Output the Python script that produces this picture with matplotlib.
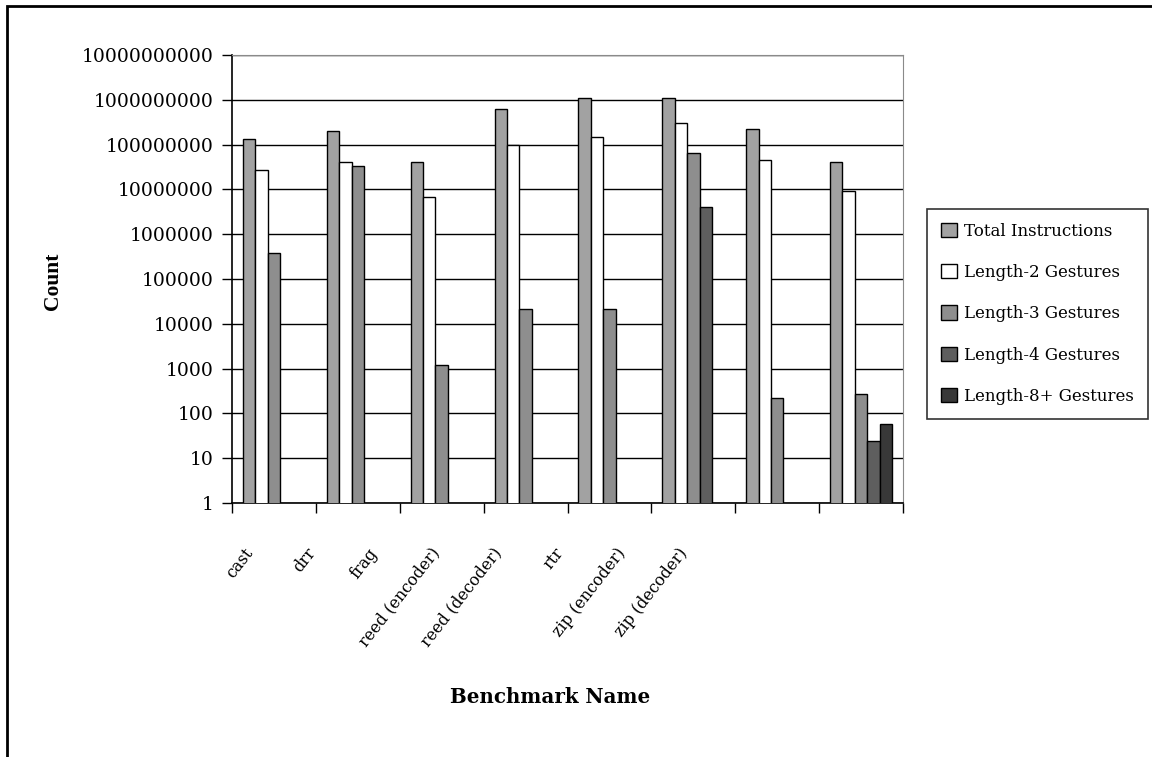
import matplotlib
matplotlib.use("Agg")
import matplotlib.pyplot as plt
import numpy as np
from matplotlib.patches import Rectangle

categories = ["cast", "drr", "frag", "reed (encoder)", "reed (decoder)",
              "rtr", "zip (encoder)", "zip (decoder)"]
series_names = ["Total Instructions", "Length-2 Gestures", "Length-3 Gestures",
                "Length-4 Gestures", "Length-8+ Gestures"]
total_instr = [1.35e8, 2.0e8, 4.0e7, 6.1e8, 1.1e9, 1.1e9, 2.2e8, 4.0e7]
len2 = [2.7e7, 4.0e7, 6.6e6, 1.0e8, 1.5e8, 3.1e8, 4.5e7, 9.2e6]
len3 = [3.9e5, 3.3e7, 1.2e3, 2.1e4, 2.1e4, 6.6e7, 2.2e2, 2.7e2]
len4 = [0, 0, 0, 0, 0, 4.0e6, 0, 24]
len8 = [0, 0, 0, 0, 0, 0, 0, 58]
ytick_vals = [10 ** k for k in range(11)]

colors = ["#a2a2a2", "#ffffff", "#8e8e8e", "#5e5e5e", "#383838"]

W, H = 1152, 757
fig = plt.figure(figsize=(W / 100, H / 100), dpi=100)
fig.patch.set_facecolor("white")

# plot area in pixels: x 232..903, y 55..503
ax = fig.add_axes([232 / W, 1 - 503 / H, 671 / W, 448 / H])

x = np.arange(len(categories))
bw = 0.148
all_series = [total_instr, len2, len3, len4, len8]
for k, (vals, c, name) in enumerate(zip(all_series, colors, series_names)):
    vals = np.array(vals, dtype=float)
    ax.bar(x + (k - 2) * bw, np.where(vals > 0, vals, np.nan), width=bw,
           color=c, edgecolor="black", linewidth=1.0, label=name, zorder=3)

ax.set_yscale("log")
ax.set_ylim(1, 1e10)
ax.set_xlim(-0.5, len(categories) - 0.5)
ax.set_yticks(ytick_vals)
ax.set_yticklabels([str(v) for v in ytick_vals], family="DejaVu Serif", fontsize=13.5)
ax.minorticks_off()
ax.yaxis.grid(True, color="black", linewidth=1.0, zorder=0)
ax.set_axisbelow(True)

ax.set_xticks(np.arange(len(categories) + 1) - 0.5)
ax.set_xticklabels([])
ax.tick_params(axis="x", direction="out", length=7, width=1, color="black")
ax.tick_params(axis="y", direction="out", length=7, width=1, color="black", pad=6)

for s in ["top", "right"]:
    ax.spines[s].set_color("#8a8a8a")
for s in ["left", "bottom"]:
    ax.spines[s].set_color("black")
    ax.spines[s].set_linewidth(1.2)

# rotated category labels, spaced a little tighter than the groups
for i, name in enumerate(categories):
    px = 250 + 62.1 * i
    ax.text((px - 232) / 671, -(550 - 503) / 448, name, rotation=52,
            rotation_mode="anchor", ha="right", va="center",
            transform=ax.transAxes, family="DejaVu Serif", fontsize=11.5)

fig.text(550 / W, 1 - 697 / H, "Benchmark Name", ha="center", va="center",
         family="DejaVu Serif", fontweight="bold", fontsize=14.3)
fig.text(53 / W, 1 - 281 / H, "Count", ha="center", va="center", rotation=90,
         family="Liberation Serif", fontweight="bold", fontsize=15.5)

leg = fig.legend(loc="upper left", bbox_to_anchor=(927 / W, 1 - 209 / H),
                 prop={"family": "DejaVu Serif", "size": 12.0},
                 frameon=True, fancybox=False, shadow=False,
                 handlelength=0.95, handleheight=0.95, handletextpad=0.45,
                 labelspacing=1.46, borderpad=0.82, borderaxespad=0)
leg.get_frame().set_edgecolor("black")
leg.get_frame().set_linewidth(1.2)

# outer chart border (left and top edges visible)
fig.patches.append(Rectangle((7 / W, -0.1), 1.2, 1 - 6 / H + 0.1,
                             transform=fig.transFigure, fill=False,
                             edgecolor="black", linewidth=2))

fig.savefig("out.png", dpi=100)
